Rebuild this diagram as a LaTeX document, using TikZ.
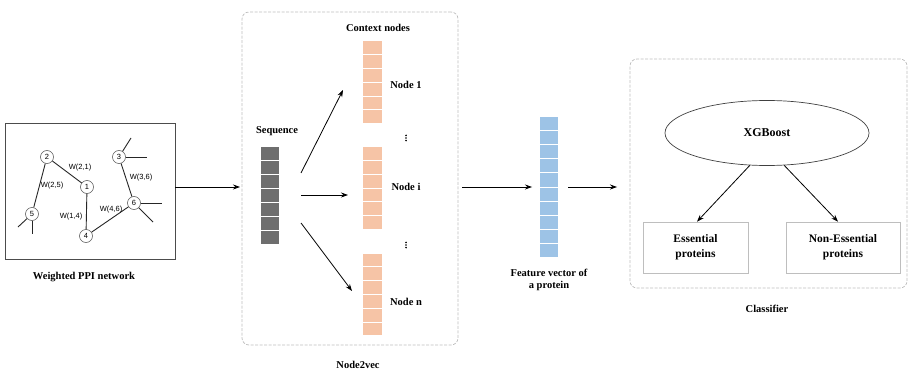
\documentclass[tikz,border=0pt]{standalone}
\usepackage{fontspec}
\setmainfont{Liberation Serif}
\newfontfamily\labelfont{Liberation Sans}
\usetikzlibrary{arrows.meta,shapes.geometric}
\definecolor{ctxorange}{RGB}{246,196,166}
\definecolor{featblue}{RGB}{157,195,230}
\definecolor{seqgray}{RGB}{110,110,110}
\definecolor{framegray}{RGB}{190,190,190}
\tikzset{
  pnode/.style={circle,draw=black!70,fill=white,line width=0.5pt,minimum size=13pt,inner sep=0pt,font=\labelfont\fontsize{7.5}{8}\selectfont},
  pedge/.style={line width=0.9pt,black!85},
  wlab/.style={font=\labelfont\fontsize{7.5}{8}\selectfont,inner sep=1pt},
  title/.style={font=\bfseries\fontsize{10.5}{12.5}\selectfont,align=center,inner sep=0pt},
  ocell/.style={rectangle,fill=ctxorange,draw=white,line width=1pt,minimum width=20pt,minimum height=13.8pt,inner sep=0pt},
  gcell/.style={rectangle,fill=seqgray,draw=white,line width=1pt,minimum width=19pt,minimum height=13.9pt,inner sep=0pt},
  bcell/.style={rectangle,fill=featblue,draw=white,line width=1pt,minimum width=19pt,minimum height=14pt,inner sep=0pt},
  frame/.style={draw=framegray,line width=0.7pt,dash pattern=on 3pt off 1.5pt,rounded corners=7pt},
  arr/.style={-{Stealth[length=7pt,width=5pt]},line width=0.8pt,black},
  leaf/.style={rectangle,draw=framegray,line width=0.7pt,minimum width=105pt,minimum height=51pt,align=center,font=\bfseries\fontsize{11.5}{15}\selectfont},
  dot/.style={circle,fill=black,inner sep=0pt,minimum size=1.8pt}
}
\begin{document}
\begin{tikzpicture}[x=1pt,y=-1pt]
\useasboundingbox (0,0) rectangle (909,374);

% ---------- weighted PPI network ----------
\node[draw=black!70,line width=0.7pt,minimum width=170pt,minimum height=136pt,inner sep=0pt] (ppi) at (90,191) {};
\node[title] (ppilab) at (84,277) {Weighted PPI network};

\node[pnode] (n2) at (47,157) {2};
\node[pnode] (n1) at (87,187) {1};
\node[pnode] (n5) at (32,214) {5};
\node[pnode] (n4) at (86,236) {4};
\node[pnode] (n3) at (119,157) {3};
\node[pnode] (n6) at (134,203) {6};
\coordinate (s5a) at (18,227);
\coordinate (s5b) at (32,234);
\coordinate (s3a) at (131,138);
\coordinate (s3b) at (147,157);
\coordinate (s6a) at (162,203);
\coordinate (s6b) at (153,222);

\draw[pedge] (n2) -- (n1);
\draw[pedge] (n2) -- (n5);
\draw[pedge] (n1) -- (n4);
\draw[pedge] (n4) -- (n6);
\draw[pedge] (n3) -- (n6);
\draw[pedge] (n5) -- (s5a);
\draw[pedge] (n5) -- (s5b);
\draw[pedge] (n3) -- (s3a);
\draw[pedge] (n3) -- (s3b);
\draw[pedge] (n6) -- (s6a);
\draw[pedge] (n6) -- (s6b);

\node[wlab] (w21) at (80,168) {W(2,1)};
\node[wlab] (w25) at (52,186) {W(2,5)};
\node[wlab] (w14) at (71,217) {W(1,4)};
\node[wlab] (w46) at (111,210) {W(4,6)};
\node[wlab] (w36) at (141,178) {W(3,6)};

% ---------- Node2vec ----------
\node[frame,minimum width=216pt,minimum height=333pt,inner sep=0pt] (n2v) at (350,178.5) {};
\node[title] (n2vlab) at (358,365) {Node2vec};
\node[title] (ctxlab) at (378,28) {Context nodes};
\node[title] (seqlab) at (277,131) {Sequence};

\foreach \i in {0,...,6} \node[gcell] (g\i) at (269.5,{147+6.93+13.86*\i}) {};
\foreach \i in {0,...,5} {
  \node[ocell] (a\i) at (372.5,{41+6.9+13.8*\i}) {};
  \node[ocell] (b\i) at (372.5,{147+6.85+13.7*\i}) {};
  \node[ocell] (c\i) at (372.5,{253+6.9+13.8*\i}) {};
}
\node[title] (lab1) at (406,85) {Node 1};
\node[title] (labi) at (406,187) {Node i};
\node[title] (labn) at (406,302) {Node n};
% vertical ellipses between the context columns
\foreach \y in {-2.6,0,2.6} {
  \node[dot] at (406,138+\y) {};
  \node[dot] at (406,245+\y) {};
}

\coordinate (f1) at (301,173);
\coordinate (t1) at (343,90);
\coordinate (f2) at (301,195);
\coordinate (t2) at (348,195);
\coordinate (f3) at (301,223);
\coordinate (t3) at (352,291);
\draw[arr] (f1) -- (t1);
\draw[arr] (f2) -- (t2);
\draw[arr] (f3) -- (t3);

\draw[arr] (ppi.east |- 0,187) coordinate (ppiout) -- (240,187) coordinate (n2vin);

% ---------- feature vector ----------
\foreach \i in {0,...,9} \node[bcell] (v\i) at (549,{117+7+14*\i}) {};
\node[title,align=center] (featlab) at (549,280) {Feature vector of\\a protein};
\coordinate (fin0) at (462,187);
\coordinate (fin1) at (532,187);
\coordinate (fout0) at (568,187);
\coordinate (fout1) at (617,187);
\draw[arr] (fin0) -- (fin1);
\draw[arr] (fout0) -- (fout1);

% ---------- classifier ----------
\node[frame,minimum width=277pt,minimum height=229pt,inner sep=0pt] (cls) at (768.5,173.5) {};
\node[title] (clslab) at (767,309) {Classifier};
\node[ellipse,draw=black!75,line width=0.7pt,minimum width=204pt,minimum height=65pt,font=\bfseries\fontsize{12}{14}\selectfont] (xgb) at (767,133) {XGBoost};
\node[leaf] (ess) at (695.5,247.5) {Essential\\proteins};
\node[leaf,minimum width=114pt] (ness) at (843,247.5) {Non-Essential\\proteins};
\draw[arr] (xgb.-118) -- (ess.north -| 697,0);
\draw[arr] (xgb.-62) -- (ness.north -| 838,0);
\end{tikzpicture}
\end{document}
